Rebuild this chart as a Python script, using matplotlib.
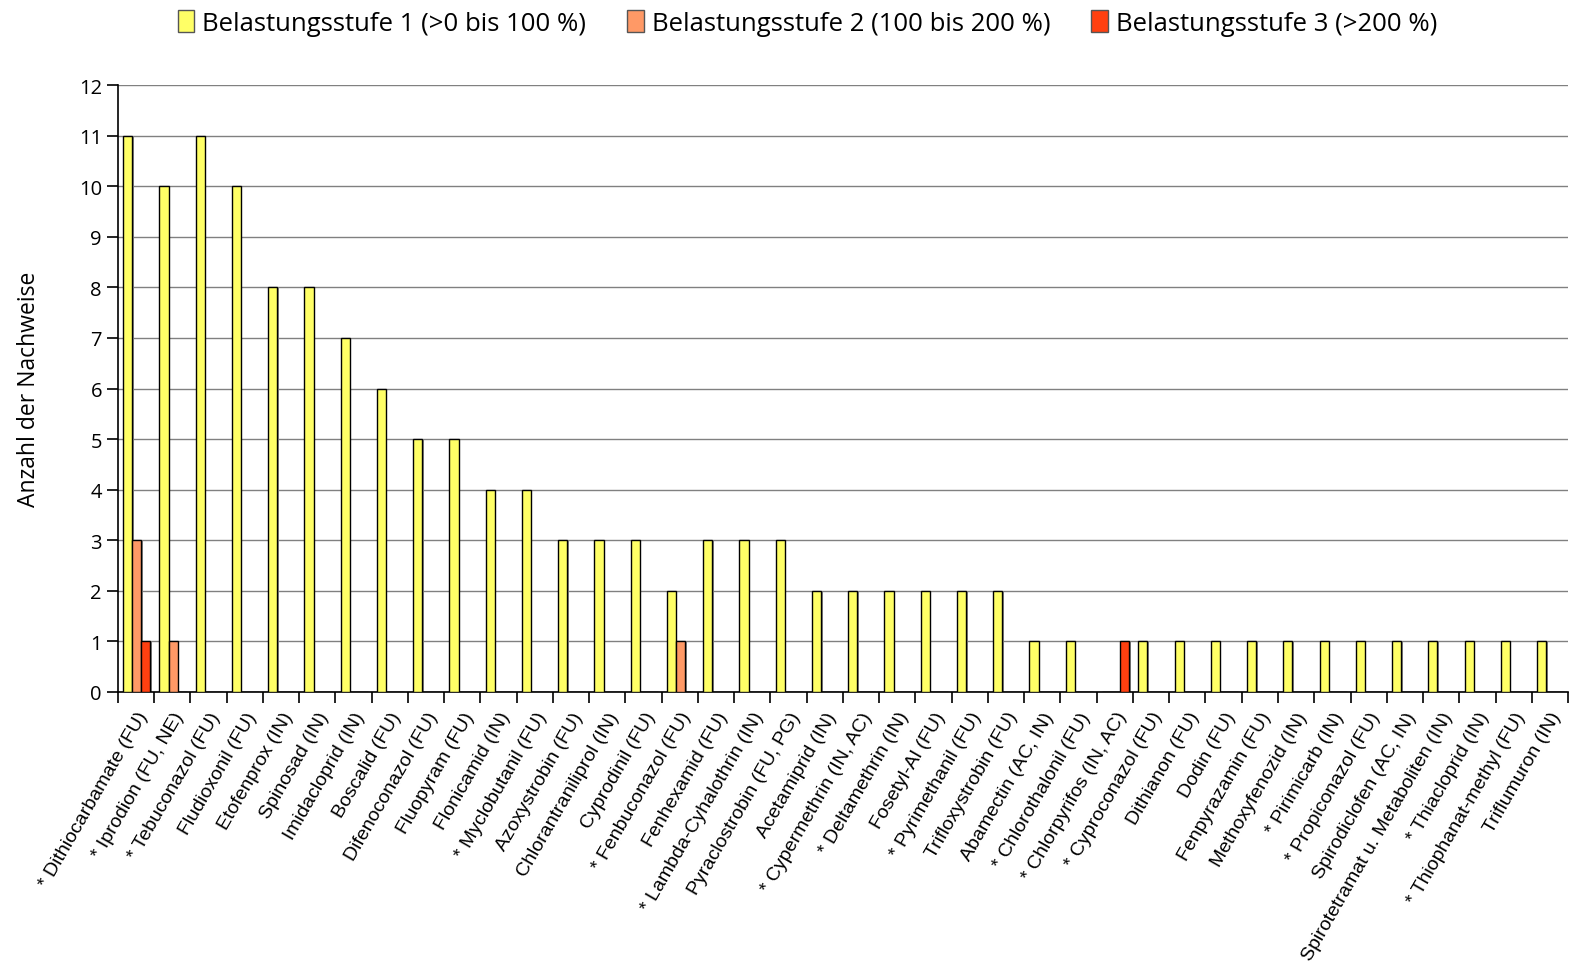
import matplotlib
matplotlib.use("Agg")
import matplotlib.pyplot as plt
import numpy as np

# Wirkstoffe und Anzahl der Nachweise je Belastungsstufe
WIRKSTOFFE = [
    "* Dithiocarbamate (FU)", "* Iprodion (FU, NE)", "* Tebuconazol (FU)",
    "Fludioxonil (FU)", "Etofenprox (IN)", "Spinosad (IN)", "Imidacloprid (IN)",
    "Boscalid (FU)", "Difenoconazol (FU)", "Fluopyram (FU)", "Flonicamid (IN)",
    "* Myclobutanil (FU)", "Azoxystrobin (FU)", "Chlorantraniliprol (IN)",
    "Cyprodinil (FU)", "* Fenbuconazol (FU)", "Fenhexamid (FU)",
    "* Lambda-Cyhalothrin (IN)", "Pyraclostrobin (FU, PG)", "Acetamiprid (IN)",
    "* Cypermethrin (IN, AC)", "* Deltamethrin (IN)", "Fosetyl-Al (FU)",
    "* Pyrimethanil (FU)", "Trifloxystrobin (FU)", "Abamectin (AC, IN)",
    "* Chlorothalonil (FU)", "* Chlorpyrifos (IN, AC)", "* Cyproconazol (FU)",
    "Dithianon (FU)", "Dodin (FU)", "Fenpyrazamin (FU)", "Methoxyfenozid (IN)",
    "* Pirimicarb (IN)", "* Propiconazol (FU)", "Spirodiclofen (AC, IN)",
    "Spirotetramat u. Metaboliten (IN)", "* Thiacloprid (IN)",
    "* Thiophanat-methyl (FU)", "Triflumuron (IN)",
]
STUFE1 = [11, 10, 11, 10, 8, 8, 7, 6, 5, 5, 4, 4, 3, 3, 3, 2, 3, 3, 3, 2,
          2, 2, 2, 2, 2, 1, 1, 0, 1, 1, 1, 1, 1, 1, 1, 1, 1, 1, 1, 1]
STUFE2 = [3, 1, 0, 0, 0, 0, 0, 0, 0, 0, 0, 0, 0, 0, 0, 1, 0, 0, 0, 0,
          0, 0, 0, 0, 0, 0, 0, 0, 0, 0, 0, 0, 0, 0, 0, 0, 0, 0, 0, 0]
STUFE3 = [1, 0, 0, 0, 0, 0, 0, 0, 0, 0, 0, 0, 0, 0, 0, 0, 0, 0, 0, 0,
          0, 0, 0, 0, 0, 0, 0, 1, 0, 0, 0, 0, 0, 0, 0, 0, 0, 0, 0, 0]
LEGENDE = ["Belastungsstufe 1 (>0 bis 100 %)",
           "Belastungsstufe 2 (100 bis 200 %)",
           "Belastungsstufe 3 (>200 %)"]
FARBEN = ["#FFFF66", "#FF9966", "#FF4010"]

fig = plt.figure(figsize=(15.77, 9.70), dpi=100)
ax = fig.add_axes([0.0748, 0.2856, 0.9195, 0.6257])

x = np.arange(len(WIRKSTOFFE))
w = 0.25
handles = []
for k, (werte, farbe) in enumerate(zip([STUFE1, STUFE2, STUFE3], FARBEN)):
    pos = x + (k - 1) * w + 0.02
    # leichter Schatten rechts neben den Balken
    ax.bar(pos + 0.04, werte, w, color="#888888", linewidth=0, zorder=2)
    b = ax.bar(pos, werte, w, color=farbe, edgecolor="black", linewidth=1.0,
               zorder=3)
    handles.append(b)

ax.set_xlim(-0.5, len(WIRKSTOFFE) - 0.5)
ax.set_ylim(0, 12)
ax.set_yticks(range(13))
ax.yaxis.grid(True, color="#808080", linewidth=1.0)
ax.set_axisbelow(True)
for s in ["top", "right"]:
    ax.spines[s].set_visible(False)
ax.spines["left"].set_linewidth(1.2)
ax.spines["bottom"].set_linewidth(1.2)

ax.set_xticks(x)
ax.set_xticklabels(WIRKSTOFFE, rotation=60, ha="right", rotation_mode="anchor",
                   fontsize=14, family="Liberation Sans")
ax.tick_params(axis="x", which="major", length=0, pad=12)
ax.set_xticks(np.arange(len(WIRKSTOFFE) + 1) - 0.5, minor=True)
ax.tick_params(axis="x", which="minor", length=8, width=1.2)
ax.tick_params(axis="y", length=8, width=1.2, labelsize=14.5)
for t in ax.get_yticklabels():
    t.set_family("Open Sans")

ax.set_ylabel("Anzahl der Nachweise", fontsize=16.5, family="Open Sans", labelpad=27)

leg = fig.legend(handles, LEGENDE, loc="upper center", bbox_to_anchor=(0.512, 1.012),
                 ncol=3, frameon=False, prop={"family": "Open Sans", "size": 18.5},
                 handlelength=0.65, handleheight=0.9, handletextpad=0.3,
                 columnspacing=1.6)
for h in leg.legend_handles:
    h.set_edgecolor("#555555")

fig.savefig("out.png", dpi=100)
